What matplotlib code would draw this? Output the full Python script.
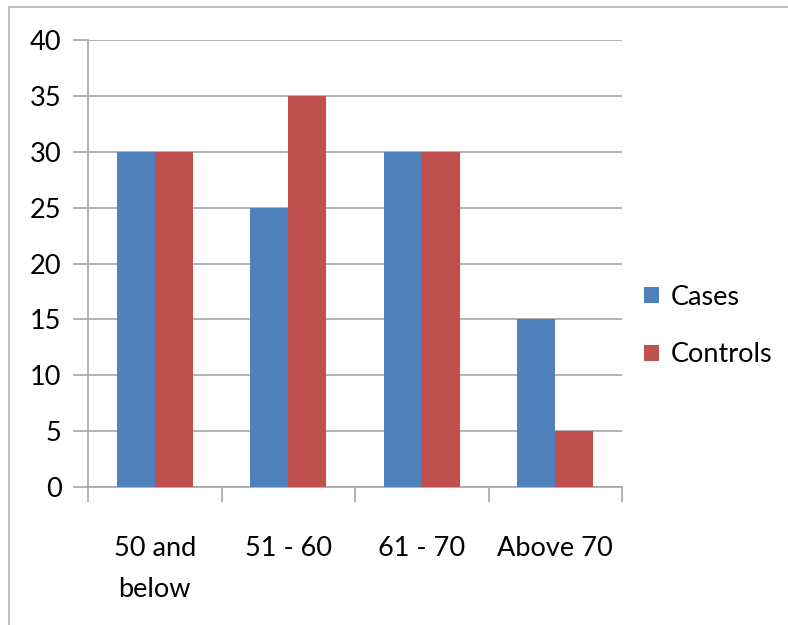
import matplotlib.pyplot as plt
import matplotlib.patches as mpatches
import numpy as np

categories = ['50 and\nbelow', '51 - 60', '61 - 70', 'Above 70']
cases = [30, 25, 30, 15]
controls = [30, 35, 30, 5]

plt.rcParams['font.family'] = ['Lato', 'DejaVu Sans']

fig = plt.figure(figsize=(7.88, 6.25), dpi=100)
# outer chart frame
fig.patches.append(mpatches.Rectangle((9 / 788, -0.1), 1.2, 1 - 7 / 625 + 0.1,
                                      transform=fig.transFigure, fill=False,
                                      edgecolor='#bfbfbf', linewidth=1.5))
ax = fig.add_axes([88 / 788, 1 - 487 / 625, (622 - 88) / 788, (487 - 40) / 625])

x = np.arange(len(categories))
w = 0.285
ax.bar(x - w / 2, cases, w, color='#4f81bd', label='Cases', zorder=3)
ax.bar(x + w / 2, controls, w, color='#c0504d', label='Controls', zorder=3)

ax.set_xlim(-0.5, 3.5)
ax.set_ylim(0, 40)
ax.set_yticks(range(0, 41, 5))
ax.grid(axis='y', color='#a6a6a6', linewidth=1.2, zorder=0)
ax.set_axisbelow(True)
for s in ['top', 'right']:
    ax.spines[s].set_visible(False)
for s in ['left', 'bottom']:
    ax.spines[s].set_color('#a6a6a6')
    ax.spines[s].set_linewidth(1.2)

ax.set_xticks(x)
ax.set_xticklabels(categories, fontsize=19.5, linespacing=1.8)
ax.tick_params(axis='x', length=0, pad=35)
ax.set_xticks(np.arange(-0.5, 4, 1), minor=True)
ax.tick_params(axis='x', which='minor', length=11, color='#a6a6a6', width=1.2)
ax.tick_params(axis='y', labelsize=19.5, length=11, color='#a6a6a6', width=1.2, pad=8)

leg = ax.legend(loc='center left', bbox_to_anchor=(0.995, 0.36), frameon=False,
                fontsize=19.5, handlelength=0.55, handleheight=0.55,
                handletextpad=0.45, labelspacing=1.2)

fig.savefig('out.png', dpi=100)
